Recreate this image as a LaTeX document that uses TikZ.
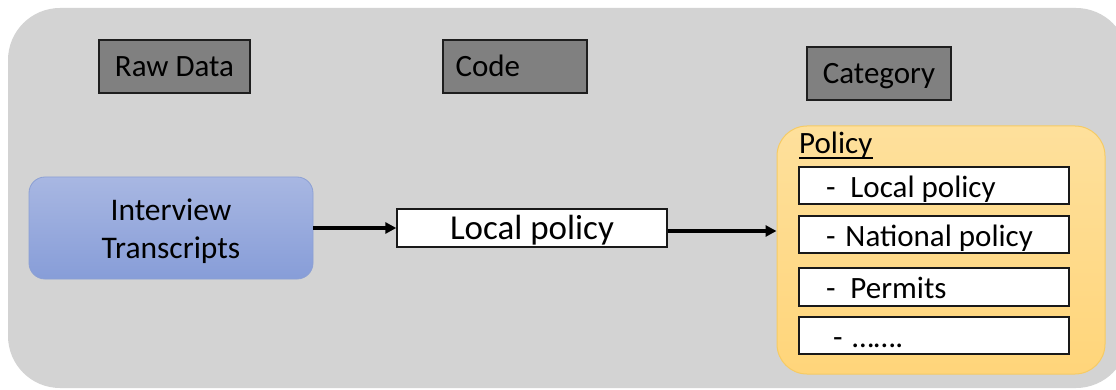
\documentclass[tikz,border=0pt]{standalone}
\usepackage{fontspec}
\setmainfont{Carlito}
\usetikzlibrary{arrows.meta}
\definecolor{panelgray}{RGB}{211,211,211}
\definecolor{headgray}{RGB}{128,128,128}
\definecolor{headedge}{RGB}{30,30,30}
\definecolor{blueTop}{RGB}{168,183,226}
\definecolor{blueBot}{RGB}{135,157,216}
\definecolor{blueEdge}{RGB}{140,160,212}
\definecolor{goldTop}{RGB}{254,224,156}
\definecolor{goldBot}{RGB}{255,213,122}
\definecolor{goldEdge}{RGB}{246,203,100}
\tikzset{
  header/.style={draw=headedge, fill=headgray, line width=1.4pt, inner sep=0pt,
    minimum width=#1, minimum height=53pt, text height=29pt, text depth=8pt,
    font=\fontsize{31}{31}\selectfont},
  header/.default=144pt,
  listbox/.style={draw=black!90, fill=white, line width=1.4pt, inner sep=0pt,
    minimum width=270pt, minimum height=37pt, text height=27pt, text depth=4pt,
    font=\fontsize{31}{31}\selectfont},
  flow/.style={line width=3.4pt, -{Triangle[length=11pt,width=11pt]}},
}
\begin{document}
\begin{tikzpicture}[x=1pt,y=-1pt]
\useasboundingbox (0,0) rectangle (1116,390);
% grey panel behind everything
\fill[panelgray, rounded corners=52pt] (8,8) rectangle (1128,388);

% column headings
\node[header=151pt] (raw) at (174.5,66.5) {Raw Data};
\node[header] (code) at (515,66.5) {\makebox[144pt][l]{\hspace{12.5pt}Code}};
\node[header] (cat) at (879,73.5) {Category};

% raw data
\node[draw=blueEdge, line width=0.8pt, top color=blueTop, bottom color=blueBot,
      rounded corners=16pt, minimum width=284pt, minimum height=102pt,
      align=center, font=\fontsize{31.5}{38}\selectfont, inner sep=0pt]
      (transcripts) at (171,228) {\rule{0pt}{28pt}Interview\\Transcripts};

% code
\node[draw=black!90, fill=white, line width=1.4pt, inner sep=0pt,
      minimum width=270pt, minimum height=38pt, text height=28pt, text depth=5pt,
      font=\fontsize{35}{35}\selectfont] (localcode) at (532,228) {Local policy};

% category container
\node[draw=goldEdge, line width=1pt, top color=goldTop, bottom color=goldBot,
      rounded corners=30pt, minimum width=328pt, minimum height=248pt,
      inner sep=0pt] (policy) at (941,250) {};
\node[anchor=base west, inner sep=0pt, font=\fontsize{31}{31}\selectfont]
      (policylabel) at (799,154) {Policy};
\draw[line width=1.2pt] ([yshift=-4pt]policylabel.base west) -- ([yshift=-4pt]policylabel.base east);

\node[listbox] (item1) at (934,185.5)
  {\makebox[270pt][l]{\hspace{27pt}-\hspace{15pt}Local policy}};
\node[listbox] (item2) at (934,234.5)
  {\makebox[270pt][l]{\hspace{27pt}-\hspace{10pt}National policy}};
\node[listbox, minimum height=38pt] (item3) at (934,287)
  {\makebox[270pt][l]{\hspace{27pt}-\hspace{15pt}Permits}};
\node[listbox] (item4) at (934,335.5)
  {\makebox[270pt][l]{\hspace{34pt}-\hspace{10pt}…….}};

% connectors
\draw[flow] (transcripts.east) -- (localcode.west);
\draw[flow] ([yshift=-3pt]localcode.east) -- ([yshift=-3pt]localcode.east -| policy.west);
\end{tikzpicture}
\end{document}
